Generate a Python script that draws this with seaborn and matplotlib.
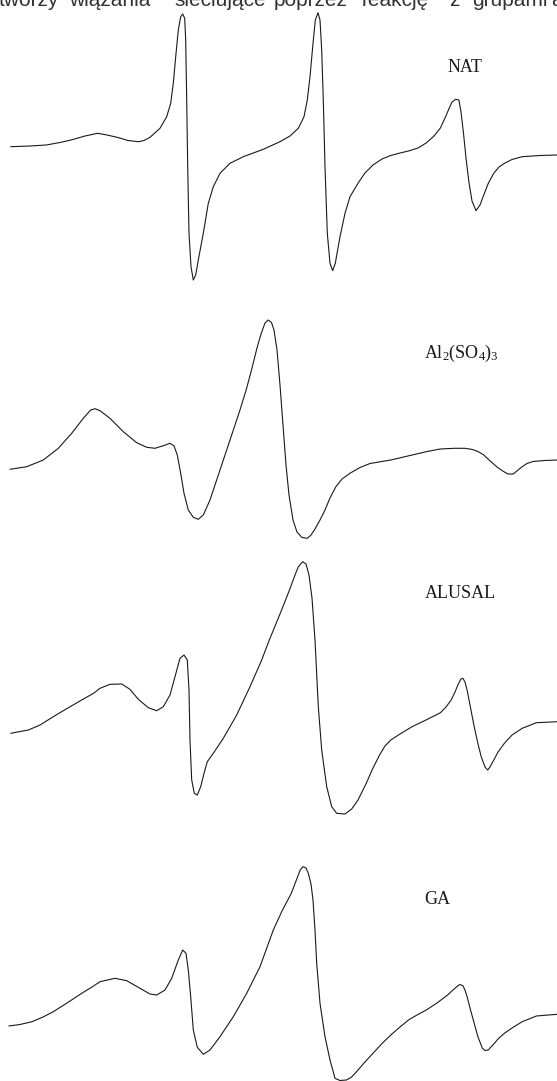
import pandas as pd
import seaborn as sns
import matplotlib.pyplot as plt

# spectra: (field position, signal row), rows counted from the top
nat = [(10.7, 146.7), (30, 146), (46.2, 145), (60, 142.5), (71, 140), (85, 136), (97.7, 133.3),
       (107, 135), (117.2, 137.3), (128, 140.5), (138.5, 141.7), (144, 140.5), (150, 137.3),
       (160, 128.3), (166.7, 116.7), (170.7, 103.3), (173.3, 83.3), (175.7, 56.7), (178.3, 30),
       (180.7, 16.7), (182.7, 14), (184.7, 18.3), (185.7, 40), (186.7, 100), (187.7, 166.7),
       (189, 233.3), (191, 266.7), (193.3, 280), (195.7, 275), (198.3, 260), (203.3, 233.3),
       (208.3, 203.3), (213.3, 186.7), (220, 173.3), (230, 163.3), (243.3, 156.7), (263.3, 149.3),
       (280, 141.7), (290, 136), (298.3, 128.3), (304, 116.7), (307.3, 100), (310, 76.7),
       (312.7, 46.7), (315.3, 20), (318, 12.7), (320, 20), (321.7, 50), (323.3, 100), (325, 166.7),
       (327.3, 233.3), (330, 263.3), (332.7, 270.7), (335.3, 263.3), (340, 236.7), (345, 213.3),
       (350, 196.7), (358.8, 182), (365, 173), (373, 165), (382, 159), (390.7, 155.5), (400, 153),
       (408.5, 151), (418, 148), (426.2, 143), (434, 136), (440.4, 128), (445, 118), (449.3, 108),
       (452, 102), (455.7, 99.3), (458.9, 100), (461, 112), (463.5, 133.3), (466, 158), (468.9, 182),
       (472, 201), (476, 210.7), (480, 205), (483.1, 196.7), (488, 184), (493.7, 173.3), (499, 167),
       (504.4, 163.3), (512, 159.5), (522.1, 156.7), (540, 155.5), (557, 155)]

al_sulfate = [(10, 469.3), (26.7, 466.7), (43.3, 460), (58.3, 448.3), (71.7, 433.3), (83.3, 418.3),
              (90.7, 410), (95, 408.7), (100, 410.7), (110, 418.3), (123.3, 431.7), (136.7, 442.7),
              (146.7, 447.3), (155, 448.3), (163.3, 445.7), (170, 443.3), (174, 446), (177.3, 455),
              (180.7, 473.3), (184, 493.3), (188.3, 510), (193.3, 517.3), (198.3, 519.3), (203.3, 515),
              (210, 500), (220, 470), (230, 440), (240, 410), (246.7, 388), (252, 368), (257, 348),
              (261, 334), (265, 323), (268.2, 320), (271.5, 322.5), (274, 330), (277, 350), (280, 385),
              (283, 425), (286, 465), (289, 495), (293, 520), (297, 532), (302, 537.5), (307.3, 538.3),
              (311, 535), (314.4, 530), (320, 520), (325, 510), (330, 498), (335.7, 487), (342, 479),
              (349.9, 473.3), (360, 467.5), (370, 463.5), (390.8, 460), (410, 455.5), (426.3, 451.7),
              (440, 449), (454.7, 448.3), (465, 448.3), (472.5, 449.5), (478, 451.5), (483.1, 454.5),
              (490.2, 461), (497, 467), (502.7, 471), (508, 474), (513.3, 474), (518, 470),
              (522.2, 466.7), (527, 463.5), (532.9, 461.5), (545, 460.5), (557, 460)]

alusal = [(10.7, 733.3), (28.4, 730), (40, 725), (53.3, 716.7), (67, 708.5), (81.7, 700), (94, 693),
          (100, 688.3), (110, 684.3), (121.7, 684), (130, 689.3), (138.3, 699.3), (148.3, 707.7),
          (156.7, 710.7), (163.3, 706.7), (170, 695), (175, 676.7), (180, 658.3), (184, 655),
          (187.3, 660), (189, 690), (190, 740), (191.7, 780), (194.3, 793.3), (197.3, 795),
          (200.7, 786.7), (204, 773.3), (207.3, 761.7), (213.3, 753.3), (223.3, 738.3), (236.7, 715),
          (250, 686.7), (261.7, 660), (269.3, 640), (280, 614), (289.5, 590), (295, 575), (298.4, 566.7),
          (302.7, 561.7), (306, 564), (309, 575), (312, 598), (315, 640), (318.3, 706.7), (321.7, 750),
          (326.7, 786.7), (331.7, 806.7), (336.7, 813.3), (345, 814), (351.7, 809), (358, 800),
          (365.9, 784), (373, 768), (380.1, 754), (385, 746), (390.8, 740), (400, 734), (412.1, 726.7),
          (426, 720), (440.5, 712.7), (446, 707), (451.2, 700), (455, 692), (458.3, 684), (461, 679),
          (462.9, 678.3), (465, 682), (467.1, 690), (470, 705), (474.2, 726.7), (478, 744),
          (481.3, 757), (485, 767), (487.7, 770), (490, 767), (493.8, 760), (498, 752), (504.4, 743.3),
          (512, 735), (522.2, 728.3), (536.4, 722.7), (557, 721.7)]

ga = [(8.9, 1026), (20, 1024.5), (32, 1021.7), (43, 1017), (53.3, 1011.7), (67, 1003), (81.7, 993.3),
      (92, 987), (100, 981.7), (115, 978.3), (126.7, 980.7), (140, 988.3), (150, 994), (156.7, 995),
      (165, 990), (171.7, 978.3), (178.3, 960), (182.7, 950), (186, 953.3), (188.3, 970),
      (190.7, 996.7), (193.3, 1030), (197.3, 1047.3), (203.3, 1054.3), (210, 1050), (220, 1036.7),
      (233.3, 1016.7), (246.7, 993.3), (260, 966.7), (273.3, 930), (282, 911), (291.3, 893.3),
      (296, 881), (300.2, 870), (303, 866.7), (306, 868), (308.3, 873.3), (311, 884), (313, 900),
      (315, 930), (316.7, 963.3), (320, 1003.3), (325, 1036.7), (330, 1060), (335, 1078.3),
      (340, 1080.5), (346.4, 1080), (351, 1077.5), (355.2, 1073.3), (364, 1063), (373, 1053.3),
      (382, 1043.5), (390.8, 1035), (400, 1027), (408.5, 1020), (417, 1015), (426.3, 1010),
      (437, 1003), (447.6, 995), (453, 990), (457.5, 986), (460, 984.5), (462.9, 985.7), (465, 990),
      (467.1, 996.7), (470, 1008), (474.2, 1023.3), (478, 1037), (482.4, 1048.3), (485, 1050.5),
      (488.4, 1050), (490, 1048), (493.8, 1044), (498, 1039), (504.4, 1033.3), (512, 1028),
      (522.2, 1021.7), (536.4, 1016), (557, 1014.3)]

samples = ['NAT', r'Al$_2$(SO$_4$)$_3$', 'ALUSAL', 'GA']
label_x = [447.6, 424.5, 424.5, 424.5]
label_y = [68, 353, 593, 900]

# the page text line that is cut by the top edge of the figure
header_words = ['tworzy', 'wiązania', 'sieciujące', 'poprzez', 'reakcję', 'z', 'grupami', 'a']
header_x = [-1, 69, 174, 273.5, 362, 449, 472, 551]

sns.set_style('white')
plt.rcParams['font.family'] = ['Liberation Serif', 'DejaVu Serif']
plt.rcParams['mathtext.fontset'] = 'custom'
plt.rcParams['mathtext.rm'] = 'Liberation Serif'
plt.rcParams['mathtext.it'] = 'Liberation Serif:italic'

fig = plt.figure(figsize=(5.57, 10.81), dpi=100)
ax = fig.add_axes([0, 0, 1, 1])

for name, pts in zip(samples, [nat, al_sulfate, alusal, ga]):
    df = pd.DataFrame(pts, columns=['field', 'signal'])
    sns.lineplot(data=df, x='field', y='signal', sort=False, estimator=None,
                 color='#1a1a1a', linewidth=0.8, ax=ax)

for name, lx, ly in zip(samples, label_x, label_y):
    ax.text(lx, ly, name, fontsize=13, ha='left', va='center', color='#1a1a1a')

for word, wx in zip(header_words, header_x):
    ax.text(wx, 6.5, word, fontsize=15, ha='left', va='baseline', color='#333333',
            family=['Liberation Sans', 'DejaVu Sans'])

ax.set_xlim(0, 557)
ax.set_ylim(1081, 0)
ax.axis('off')

fig.savefig('out.png', dpi=100)
